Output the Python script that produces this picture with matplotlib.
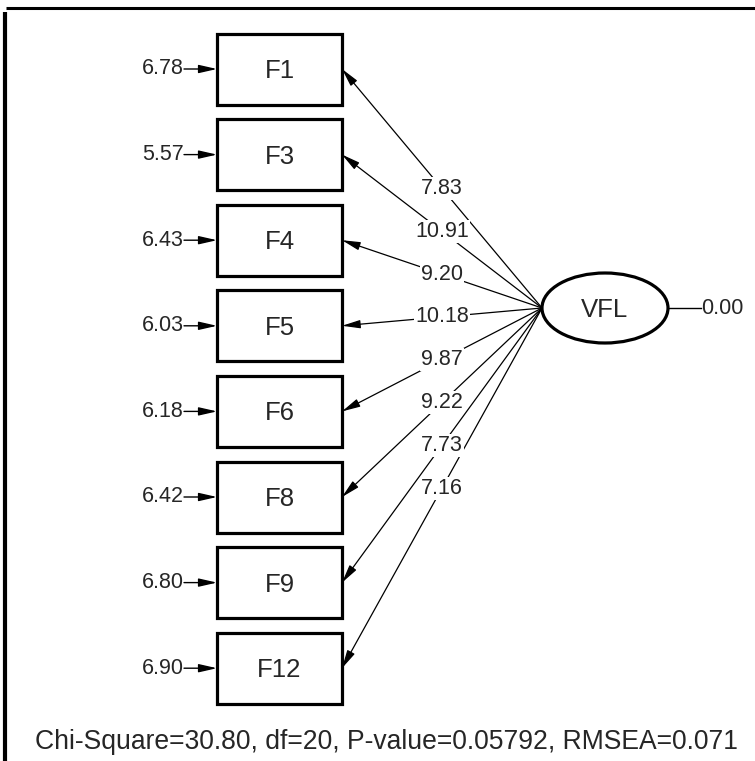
import matplotlib.pyplot as plt
from matplotlib.patches import Rectangle, Ellipse

#==============================================
# DATA
#==============================================

indicators=["F1","F3","F4","F5","F6","F8","F9","F12"]
error_values=["6.78","5.57","6.43","6.03","6.18","6.42","6.80","6.90"]
loadings=["7.83","10.91","9.20","10.18","9.87","9.22","7.73","7.16"]
factor_name="VFL"
factor_error="0.00"
fit_text="Chi-Square=30.80, df=20, P-value=0.05792, RMSEA=0.071"

#==============================================
# LAYOUT (pixel coordinates)
#==============================================

box_left=217
box_w=125
box_h=71
first_cy=69
step=85.6
ell_cx,ell_cy=605,308
ell_w,ell_h=126,70
font="Liberation Sans"
fs=15.5       # numbers
fs_big=18.5   # variable names
txt_col="#262626"

fig=plt.figure(figsize=(7.55,7.61),dpi=100)
ax=fig.add_axes([0,0,1,1])
ax.set_xlim(0,755)
ax.set_ylim(761,0)
ax.axis("off")

# frame lines
ax.plot([6,755],[8,8],color="black",lw=2.2,solid_capstyle="butt")
ax.plot([5,5],[12,761],color="black",lw=3,solid_capstyle="butt")

ell_left=ell_cx-ell_w/2
box_right=box_left+box_w

for i,name in enumerate(indicators):
    cy=first_cy+i*step
    ax.add_patch(Rectangle((box_left,cy-box_h/2),box_w,box_h,fill=True,
                           facecolor="white",edgecolor="black",lw=2.3,zorder=3))
    ax.text(box_left+box_w/2,cy+2,name,ha="center",va="center",fontsize=fs_big,
            family=font,color=txt_col,zorder=4)
    # error term
    ax.text(184,cy,error_values[i],ha="right",va="center",fontsize=fs,
            family=font,color=txt_col)
    ax.annotate("",xy=(box_left,cy),xytext=(184,cy),
                arrowprops=dict(arrowstyle="-|>,head_length=1.1,head_width=0.25",
                                lw=1.0,color="black",shrinkA=0,shrinkB=0),zorder=2)
    # loading
    ax.annotate("",xy=(box_right,cy),xytext=(ell_left,ell_cy),
                arrowprops=dict(arrowstyle="-|>,head_length=1.1,head_width=0.25",
                                lw=0.9,color="black",shrinkA=0,shrinkB=0),zorder=2)
    mx=(box_right+ell_left)/2
    my=(cy+ell_cy)/2
    ax.text(mx,my,loadings[i],ha="center",va="center",fontsize=fs,family=font,
            color=txt_col,zorder=5,
            bbox=dict(boxstyle="square,pad=0.05",facecolor="white",edgecolor="none"))

# latent factor
ax.add_patch(Ellipse((ell_cx,ell_cy),ell_w,ell_h,facecolor="white",
                     edgecolor="black",lw=2.3,zorder=3))
ax.text(ell_cx,ell_cy+2,factor_name,ha="center",va="center",fontsize=fs_big,
        family=font,color=txt_col,zorder=4)
ax.plot([ell_cx+ell_w/2,701],[ell_cy,ell_cy],color="black",lw=1.0)
ax.text(701,ell_cy,factor_error,ha="left",va="center",fontsize=fs,
        family=font,color=txt_col)

# fit statistics
ax.text(386,742,fit_text,ha="center",va="center",fontsize=19.1,family=font,
        color=txt_col)

fig.savefig("out.png",dpi=100)
